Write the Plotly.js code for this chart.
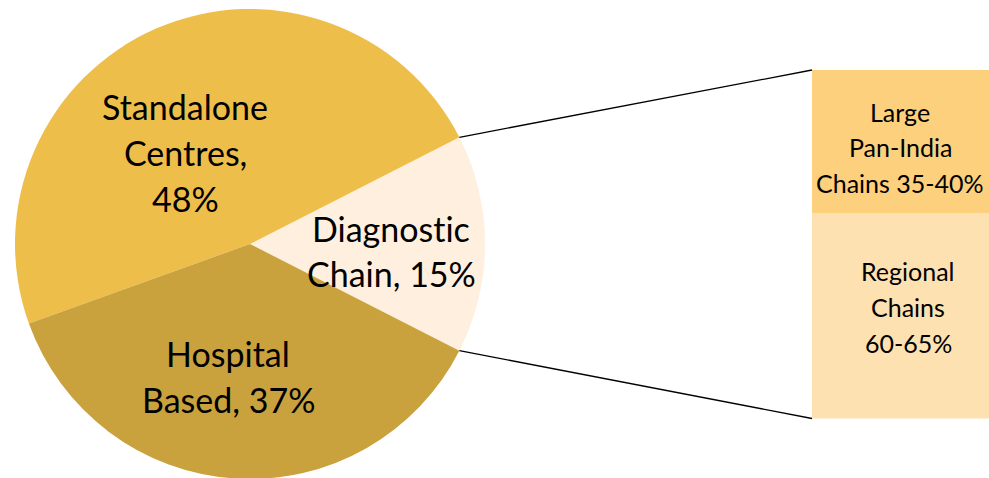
<!DOCTYPE html>
<html>
<head>
<meta charset="utf-8">
<script src="https://cdn.plot.ly/plotly-3.0.1.min.js"></script>
<style>
  html, body { margin: 0; padding: 0; overflow: hidden; background: #ffffff; }
  #chart { width: 989px; height: 490px; }
  text { font-variant-ligatures: none; font-feature-settings: "liga" 0, "clig" 0; }
</style>
</head>
<body>
<div id="chart"></div>
<script>
// ---- Data ----
var pieCategories = ['Diagnostic Chain', 'Standalone Centres', 'Hospital Based'];
var pieValues = [15, 48, 37];
var pieLabelText = ['Diagnostic<br>Chain, 15%', 'Standalone<br>Centres,<br>48%', 'Hospital<br>Based, 37%'];
var pieColors = ['#FEEFDE', '#EEBE4B', '#C9A23E'];

var barCategories = ['Regional Chains', 'Large Pan-India Chains'];
var barValues = [59, 41];
var barLabelText = ['Regional<br>Chains<br>60-65%', 'Large<br>Pan-India<br>Chains 35-40%'];
var barColors = ['#FDE1B0', '#FCD07C'];

// ---- Layout geometry (pixels) ----
var W = 989, H = 490;
var pieDomX = [15 / W, 485 / W];
var pieDomY = [(H - 479) / H, (H - 9) / H];
var barDomX = [812 / W, 1];
var barDomY = [(H - 418.5) / H, (H - 70) / H];
var FONT = 'Lato, "Open Sans", sans-serif';

var total = pieValues.reduce(function (a, b) { return a + b; }, 0);

var traces = [{
  type: 'pie',
  labels: pieCategories,
  values: pieValues,
  sort: false,
  direction: 'counterclockwise',
  // first slice centred on the 3 o'clock direction
  rotation: 90 - (pieValues[0] / total) * 180,
  marker: { colors: pieColors, line: { width: 0 } },
  textinfo: 'none',
  hoverinfo: 'label+percent',
  showlegend: false,
  domain: { x: pieDomX, y: pieDomY }
}];

for (var i = 0; i < barCategories.length; i++) {
  traces.push({
    type: 'bar',
    name: barCategories[i],
    x: ['Diagnostic Chain'],
    y: [barValues[i]],
    width: [1],
    marker: { color: barColors[i], line: { width: 0 } },
    xaxis: 'x', yaxis: 'y',
    showlegend: false,
    hoverinfo: 'name+y'
  });
}

// connector lines derived from the pie geometry
var pxX0 = pieDomX[0] * W, pxX1 = pieDomX[1] * W;
var pxYTop = (1 - pieDomY[1]) * H, pxYBot = (1 - pieDomY[0]) * H;
var cx = (pxX0 + pxX1) / 2, cy = (pxYTop + pxYBot) / 2;
var r = Math.min(pxX1 - pxX0, pxYBot - pxYTop) / 2;
var half = pieValues[0] / total * Math.PI;
var pTop = [cx + r * Math.cos(half), cy - r * Math.sin(half)];
var pBot = [cx + r * Math.cos(half), cy + r * Math.sin(half)];
function toPaper(p) { return [p[0] / W, 1 - p[1] / H]; }
var a1 = toPaper(pTop), a2 = toPaper(pBot);
var barSum = barValues.reduce(function (a, b) { return a + b; }, 0);

var shapes = [
  { type: 'line', xref: 'paper', yref: 'paper', x0: a1[0], y0: a1[1], x1: barDomX[0], y1: barDomY[1],
    line: { color: '#000000', width: 1.3 } },
  { type: 'line', xref: 'paper', yref: 'paper', x0: a2[0], y0: a2[1], x1: barDomX[0], y1: barDomY[0],
    line: { color: '#000000', width: 1.3 } }
];

// label positions (pixel centres of text blocks) and line pitch
var pieLabelPos = [[391, 251], [185, 152.5], [228, 376.5]];
var barLabelPos = [[908, 307], [900, 147.5]];
var annotations = [];
function addLabel(text, pos, size, pitch) {
  var lines = text.split('<br>');
  var n = lines.length;
  for (var m = 0; m < n; m++) {
    var py = pos[1] + (m - (n - 1) / 2) * pitch;
    annotations.push({
      xref: 'paper', yref: 'paper',
      x: pos[0] / W, y: 1 - py / H,
      xanchor: 'center', yanchor: 'middle', showarrow: false,
      text: lines[m], align: 'center',
      font: { family: FONT, size: size, color: '#000000' }
    });
  }
}
for (var j = 0; j < pieLabelText.length; j++) addLabel(pieLabelText[j], pieLabelPos[j], 34, 45.7);
for (var k = 0; k < barLabelText.length; k++) addLabel(barLabelText[k], barLabelPos[k], 25, 35.8);

var layout = {
  width: W, height: H,
  margin: { l: 0, r: 0, t: 0, b: 0, pad: 0 },
  paper_bgcolor: '#ffffff', plot_bgcolor: 'rgba(0,0,0,0)',
  barmode: 'stack', bargap: 0,
  showlegend: false,
  xaxis: { domain: barDomX, range: [-0.5, 0.5], visible: false, fixedrange: true },
  yaxis: { domain: barDomY, range: [0, barSum], visible: false, fixedrange: true },
  shapes: shapes,
  annotations: annotations,
  font: { family: FONT }
};

Plotly.newPlot('chart', traces, layout, { displayModeBar: false, staticPlot: true });
</script>
</body>
</html>
